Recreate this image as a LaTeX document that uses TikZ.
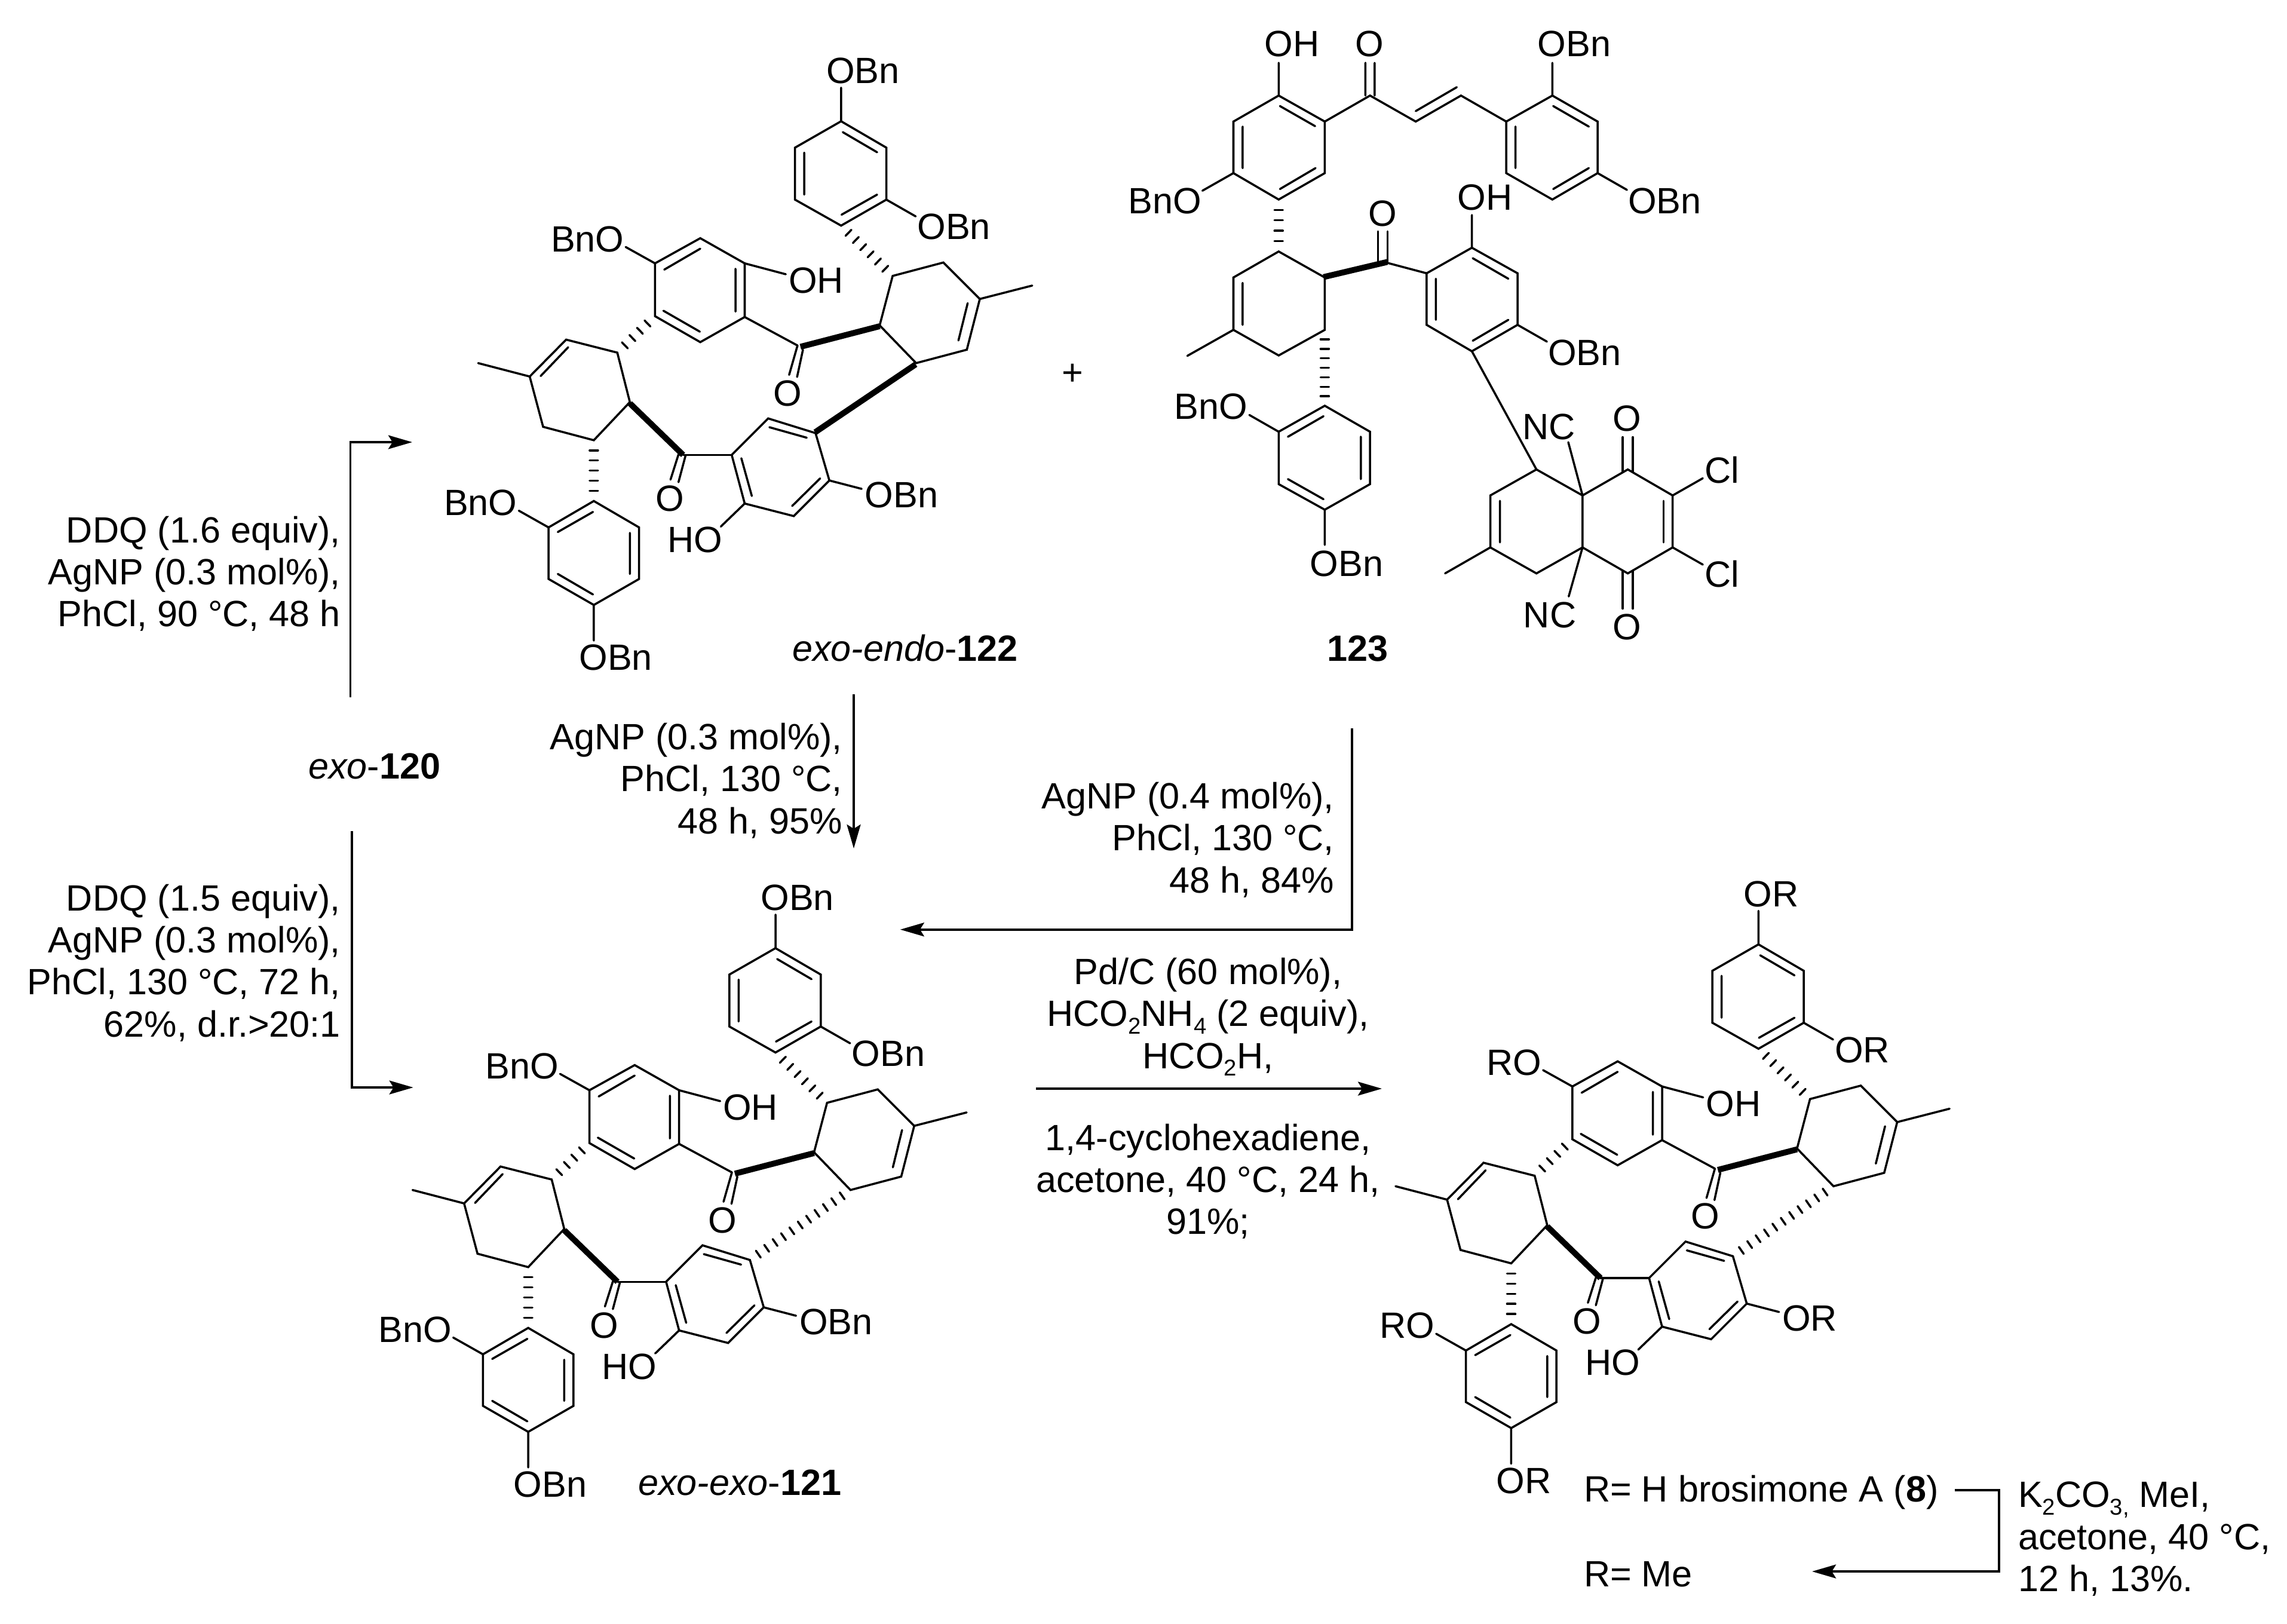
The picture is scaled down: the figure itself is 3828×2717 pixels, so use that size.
\documentclass[tikz,border=0pt]{standalone}
\usepackage{fontspec}
\setmainfont{Liberation Sans}
\usetikzlibrary{arrows.meta}
\newcommand\chemsub[1]{\raisebox{-0.21em}{\fontsize{10.9}{12}\selectfont #1}}
\tikzset{
  bond/.style={line width=1.0pt,line cap=round,line join=miter,black},
  boldbond/.style={line width=2.8pt,line cap=butt,black},
  hashstroke/.style={line width=1.0pt,line cap=round,black},
  rxn/.style={line width=1.1pt,line join=miter,line cap=butt,black},
  rxnarrow/.style={rxn,-{Stealth[length=0.40cm,width=0.23cm,inset=0.07cm]}},
  atomw/.style={anchor=base west,inner sep=0pt,outer sep=0pt},
  atome/.style={anchor=base east,inner sep=0pt,outer sep=0pt},
  atomc/.style={anchor=base,inner sep=0pt,outer sep=0pt},
  cond/.style={inner sep=0pt,outer sep=0pt},
}
% hashed bond: x1,y1,x2,y2,number of strokes (local units)
\newcommand\hashbond[5]{%
  \pgfmathsetmacro\hbdx{#3-(#1)}\pgfmathsetmacro\hbdy{#4-(#2)}%
  \pgfmathsetmacro\hbl{veclen(\hbdx,\hbdy)}%
  \pgfmathsetmacro\hbux{\hbdx/\hbl}\pgfmathsetmacro\hbuy{\hbdy/\hbl}%
  \foreach \hbi in {1,...,#5}{%
    \pgfmathsetmacro\hbt{\hbi/(#5+1)}%
    \pgfmathsetmacro\hbpx{#1+\hbt*\hbdx}\pgfmathsetmacro\hbpy{#2+\hbt*\hbdy}%
    \draw[hashstroke] ({\hbpx-10*\hbuy},{\hbpy+10*\hbux}) -- ({\hbpx+10*\hbuy},{\hbpy-10*\hbux});
  }%
}
% dimer skeleton: prefix, ox, oy, right-hand label, left-hand label, 0 bold / 1 hashed bridge
\newcommand\dimer[6]{%
\begin{scope}[shift={(#2,#3)},scale=0.7015]
  % ring A
  \draw[bond] (1009,218)--(1117,281)--(1117,405)--(1009,467)--(899,405)--(899,281)--cycle;
  \draw[bond] (1013,244)--(1095,292) (1095,393)--(1010,441) (921,393)--(921,293);
  \draw[bond] (1009,218)--(1009,138) (1117,405)--(1187,445);
  \hashbond{1009}{467}{1132}{587}{6}
  % ring B
  \draw[bond] (1132,587)--(1253,555)--(1340,642)--(1309,763)--(1188,795)--(1101,705)--cycle;
  \draw[bond] (1311,652)--(1289,741) (1340,642)--(1465,610);
  \draw[boldbond] (912,756)--(1101,707);
  \draw[bond] (905,753)--(885,823) (918,763)--(904,828);
  % ring C
  \draw[bond] (565,557)--(673,497)--(779,557)--(779,685)--(673,745)--(565,683)--cycle;
  \draw[bond] (587,572)--(673,522) (757,570)--(757,672) (585,670)--(672,720);
  \draw[bond] (565,557)--(495,518) (779,557)--(877,583) (779,685)--(905,753);
  \hashbond{565}{683}{475}{770}{4}
  % ring D
  \draw[bond] (475,770)--(353,739)--(266,827)--(298,947)--(419,979)--(505,888)--cycle;
  \draw[bond] (358,757)--(292,826) (266,827)--(143,795);
  \draw[boldbond] (505,891)--(632,1014);
  \draw[bond] (621,1013)--(602,1073) (638,1015)--(621,1079);
  \draw[bond] (632,1014)--(748,1014);
  % ring F
  \draw[bond] (748,1014)--(835,927)--(948,962)--(981,1075)--(896,1160)--(779,1130)--cycle;
  \draw[bond] (771,1022)--(796,1112) (838,948)--(927,973) (959,1070)--(892,1136);
  \draw[bond] (981,1075)--(1058,1095) (779,1130)--(722,1185);
  \ifnum#6=0
    \draw[boldbond] (1187,798)--(947,960);
  \else
    \hashbond{1188}{795}{948}{962}{11}
  \fi
  \hashbond{419}{979}{419}{1124}{5}
  % ring G
  \draw[bond] (419,1124)--(527,1187)--(527,1310)--(419,1372)--(311,1310)--(311,1187)--cycle;
  \draw[bond] (417,1150)--(333,1198) (505,1200)--(505,1298) (417,1347)--(333,1298);
  \draw[bond] (311,1187)--(240,1147) (419,1372)--(419,1457);
  % labels
  \node[atomw] (#1-a) at (974,128) {O#4};
  \node[atomw] (#1-b) at (1191,500) {O#4};
  \node[atome] (#1-c) at (491,530) {#5O};
  \node[atomw] (#1-d) at (884,628) {OH};
  \node[atomc] (#1-e) at (882,897) {O};
  \node[atomc] (#1-f) at (600,1148) {O};
  \node[atomw] (#1-g) at (1066,1140) {O#4};
  \node[atome] (#1-h) at (726,1246) {HO};
  \node[atome] (#1-i) at (236,1158) {#5O};
  \node[atomw] (#1-j) at (384,1528) {O#4};
\end{scope}}
\begin{document}
\begin{tikzpicture}[x=0.01cm,y=-0.01cm,font=\fontsize{17.4}{19.92}\selectfont]
\path[fill=white,use as bounding box] (0,0) rectangle (3828,2717);
\dimer{ee}{700}{50}{Bn}{Bn}{0}
\dimer{xx}{590.2}{1433.9}{Bn}{Bn}{1}
\dimer{rr}{2235.5}{1427.6}{R}{R}{1}
% compound 123
\begin{scope}[shift={(1800,0)},scale=0.7015]
  \draw[bond] (485,228)--(595,290)--(595,413)--(485,476)--(377,413)--(377,290)--cycle;
  \draw[bond] (488,253)--(572,301) (573,401)--(488,451) (399,401)--(399,302);
  \draw[bond] (485,228)--(485,150) (377,413)--(303,455);
  \draw[bond] (595,290)--(703,228)--(812,290)--(920,228)--(1028,290);
  \draw[bond] (812,265)--(910,208) (692,228)--(692,150) (714,228)--(714,150);
  \draw[bond] (1028,290)--(1138,228)--(1246,290)--(1246,413)--(1138,476)--(1028,413)--cycle;
  \draw[bond] (1140,253)--(1225,302) (1225,401)--(1140,451) (1050,302)--(1050,401);
  \draw[bond] (1138,228)--(1138,150) (1246,413)--(1316,453);
  \hashbond{485}{476}{485}{600}{4}
  \draw[bond] (485,600)--(595,662)--(595,787)--(485,848)--(377,787)--(377,662)--cycle;
  \draw[bond] (399,675)--(399,775) (377,787)--(267,849);
  \draw[boldbond] (592,661)--(744,625);
  \draw[bond] (722,625)--(722,552) (745,625)--(745,552);
  \draw[bond] (740,626)--(838,652);
  \draw[bond] (838,652)--(946,591)--(1055,652)--(1055,775)--(946,838)--(838,775)--cycle;
  \draw[bond] (948,616)--(1033,665) (1033,763)--(948,813) (860,665)--(860,763);
  \draw[bond] (946,591)--(946,513) (1055,775)--(1125,815);
  \hashbond{595}{787}{595}{968}{7}
  \draw[bond] (595,968)--(703,1030)--(703,1155)--(595,1216)--(485,1155)--(485,1030)--cycle;
  \draw[bond] (592,993)--(507,1042) (681,1042)--(681,1143) (592,1191)--(507,1143);
  \draw[bond] (485,1030)--(415,990) (595,1216)--(595,1300);
  \draw[bond] (946,838)--(1100,1120);
  \draw[bond] (1100,1120)--(1210,1182)--(1210,1306)--(1100,1368)--(990,1306)--(990,1182)--cycle;
  \draw[bond] (1013,1195)--(1013,1294) (990,1306)--(882,1368);
  \draw[bond] (1210,1182)--(1176,1055) (1210,1306)--(1177,1423);
  \draw[bond] (1210,1182)--(1318,1120)--(1425,1182)--(1425,1306)--(1318,1368)--(1210,1306);
  \draw[bond] (1403,1195)--(1403,1294);
  \draw[bond] (1306,1125)--(1306,1043) (1330,1125)--(1330,1043);
  \draw[bond] (1306,1363)--(1306,1452) (1330,1363)--(1330,1452);
  \draw[bond] (1425,1182)--(1497,1141) (1425,1306)--(1497,1347);
  \node[atomw] (q-a) at (451,135) {OH};
  \node[atomc] (q-b) at (702,135) {O};
  \node[atomw] (q-c) at (1103,135) {OBn};
  \node[atomw] (q-d) at (1319,510) {OBn};
  \node[atome] (q-e) at (301,510) {BnO};
  \node[atomc] (q-f) at (733,540) {O};
  \node[atomw] (q-g) at (912,501) {OH};
  \node[atomw] (q-h) at (1128,871) {OBn};
  \node[atome] (q-i) at (411,1000) {BnO};
  \node[atomw] (q-j) at (560,1375) {OBn};
  \node[atomw] (q-k) at (1067,1048) {NC};
  \node[atomw] (q-l) at (1069,1498) {NC};
  \node[atomc] (q-m) at (1316,1028) {O};
  \node[atomc] (q-n) at (1316,1526) {O};
  \node[atomw] (q-o) at (1502,1153) {Cl};
  \node[atomw] (q-p) at (1502,1401) {Cl};
\end{scope}
% compound labels
\node[atomw] (lab122) at (1326,1106) {\textit{exo-endo}-\textbf{122}};
\node[atomw] (lab123) at (2221,1106) {\textbf{123}};
\node[atomw] (lab121) at (1068,2502) {\textit{exo-exo}-\textbf{121}};
\node[atomw] (lab120) at (516,1303.6) {\textit{exo}-\textbf{120}};
\node[cond] (plus) at (1795,627) {+};
% conditions
\node[cond,atome,align=right] (t1) at (570,1048.6) {DDQ (1.6 equiv),\\AgNP (0.3 mol\%),\\PhCl, 90 °C, 48 h};
\node[cond,atome,align=right] (t2) at (570,1735) {DDQ (1.5 equiv),\\AgNP (0.3 mol\%),\\PhCl, 130 °C, 72 h,\\62\%, d.r.>20:1};
\node[cond,atome,align=right] (t3) at (1410,1395) {AgNP (0.3 mol\%),\\PhCl, 130 °C,\\48 h, 95\%};
\node[cond,atome,align=right] (t4) at (2233,1494) {AgNP (0.4 mol\%),\\PhCl, 130 °C,\\48 h, 84\%};
\node[cond,atomc,align=center] (t5) at (2022,1788) {Pd/C (60 mol\%),\\HCO\chemsub{2}NH\chemsub{4} (2 equiv),\\HCO\chemsub{2}H,};
\node[cond,atomc,align=center] (t6) at (2022,2065.5) {1,4-cyclohexadiene,\\acetone, 40 °C, 24 h,\\91\%;};
\node[atomw] (t7) at (2651,2513) {R= H brosimone A (\textbf{8})};
\node[atomw] (t8) at (2651,2655.7) {R= Me};
\node[cond,atomw,align=left] (t9) at (3378,2663) {K\chemsub{2}CO\chemsub{3,} MeI,\\acetone, 40 °C,\\12 h, 13\%.};
% reaction arrows
\coordinate (a1s) at (586.5,1166.5); \coordinate (a1c) at (586.5,740); \coordinate (a1e) at (690,740);
\coordinate (a2s) at (589,1390.7); \coordinate (a2c) at (589,1820); \coordinate (a2e) at (691.7,1820);
\coordinate (a3s) at (1429,1162); \coordinate (a3e) at (1429,1420);
\coordinate (a4s) at (2262.8,1219); \coordinate (a4c) at (2262.8,1555.7); \coordinate (a4e) at (1506.8,1555.7);
\coordinate (a5s) at (1734,1822); \coordinate (a5e) at (2313,1822);
\coordinate (a6s) at (3272,2494); \coordinate (a6c) at (3346,2494); \coordinate (a6d) at (3346,2630); \coordinate (a6e) at (3033,2630);
\draw[rxnarrow] (a1s)--(a1c)--(a1e);
\draw[rxnarrow] (a2s)--(a2c)--(a2e);
\draw[rxnarrow] (a3s)--(a3e);
\draw[rxnarrow] (a4s)--(a4c)--(a4e);
\draw[rxnarrow] (a5s)--(a5e);
\draw[rxnarrow] (a6s)--(a6c)--(a6d)--(a6e);
\end{tikzpicture}
\end{document}
